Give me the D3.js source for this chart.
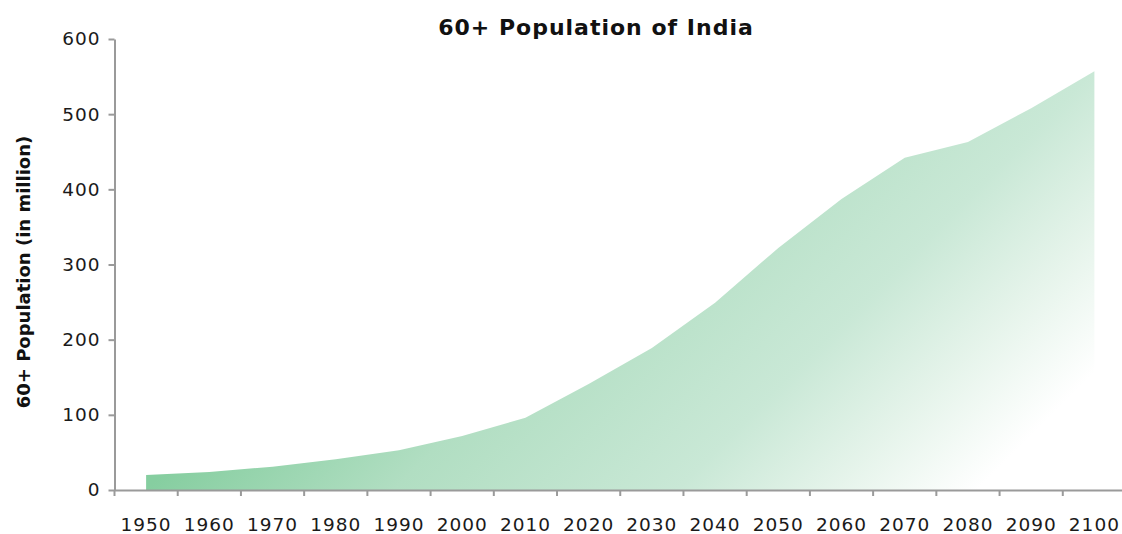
<!DOCTYPE html>
<html>
<head>
<meta charset="utf-8">
<script src="https://cdn.jsdelivr.net/npm/d3@7"></script>
<style>
  body { margin: 0; background: #fff; }
  svg text { font-family: "DejaVu Sans", sans-serif; fill: #111; }
  .axis path, .axis line { stroke: #9a9a9a; stroke-width: 2; }
  .axis text { font-size: 18.5px; letter-spacing: 1px; fill: #1a1a1a; }
</style>
</head>
<body>
<div id="chart"></div>
<script>
var years = ["1950", "1960", "1970", "1980", "1990", "2000", "2010", "2020",
             "2030", "2040", "2050", "2060", "2070", "2080", "2090", "2100"];
var population = [20, 24, 31, 41, 53, 72, 96, 141, 189, 249, 322, 387, 442, 463, 508, 557];
var yTicks = [0, 100, 200, 300, 400, 500, 600];

var width = 1122,
    height = 534,
    margin = {top: 39, right: -4, bottom: 44, left: 114.5};

var data = years.map(function(d, i) { return {year: d, value: population[i]}; });

var svg = d3.select("#chart").append("svg")
    .attr("width", width)
    .attr("height", height);

var x = d3.scaleBand()
    .domain(years)
    .range([margin.left, width - margin.right]);

var y = d3.scaleLinear()
    .domain([0, 600])
    .range([height - margin.bottom, margin.top]);

function cx(d) { return x(d) + x.bandwidth() / 2; }

// diagonal fade, darker bottom-left -> white bottom-right
var x0 = cx(years[0]), y0 = y(0);
var grad = svg.append("defs").append("linearGradient")
    .attr("id", "areaFill")
    .attr("gradientUnits", "userSpaceOnUse")
    .attr("x1", x0).attr("y1", y0)
    .attr("x2", x0 + 442).attr("y2", y0 + 442);
grad.append("stop").attr("offset", "0").attr("stop-color", "#86cea0");
grad.append("stop").attr("offset", "0.28").attr("stop-color", "#b1dec2");
grad.append("stop").attr("offset", "0.6").attr("stop-color", "#c9e8d6");
grad.append("stop").attr("offset", "0.78").attr("stop-color", "#e6f4eb");
grad.append("stop").attr("offset", "0.94").attr("stop-color", "#ffffff");

var area = d3.area()
    .x(function(d) { return cx(d.year); })
    .y0(y(0))
    .y1(function(d) { return y(d.value); });

svg.append("path")
    .datum(data)
    .attr("d", area)
    .attr("fill", "url(#areaFill)");

svg.append("g")
    .attr("class", "x axis")
    .attr("transform", "translate(0," + y(0) + ")")
    .call(d3.axisBottom(x).tickSize(6).tickSizeOuter(0).tickPadding(22))
    .call(function(g) {
      g.selectAll(".tick line").attr("transform", "translate(" + (-x.bandwidth() / 2) + ",0)");
    });

svg.append("g")
    .attr("class", "y axis")
    .attr("transform", "translate(" + margin.left + ",0)")
    .call(d3.axisLeft(y).tickValues(yTicks).tickSize(6).tickSizeOuter(0).tickPadding(8));

// title
svg.append("text")
    .attr("x", 596)
    .attr("y", 35)
    .attr("text-anchor", "middle")
    .attr("font-size", 22)
    .attr("font-weight", "bold")
    .attr("letter-spacing", 1)
    .text("60+ Population of India");

svg.append("text")
    .attr("transform", "translate(30,272) rotate(-90)")
    .attr("text-anchor", "middle")
    .attr("font-size", 18)
    .attr("font-weight", "bold")
    .text("60+ Population (in million)");
</script>
</body>
</html>
